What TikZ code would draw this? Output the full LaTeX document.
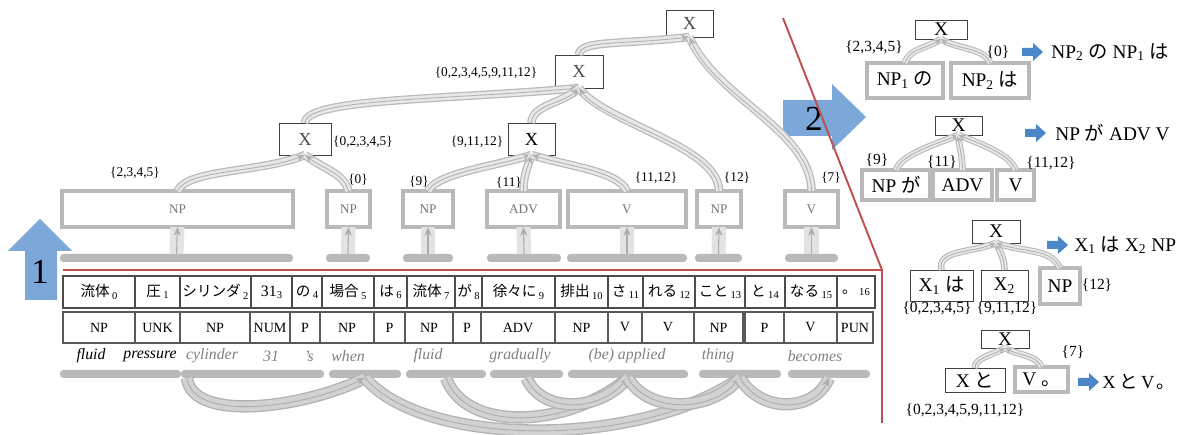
\documentclass[tikz,border=0pt]{standalone}
\usepackage{fontspec}
\setmainfont{Liberation Serif}
\newfontfamily\jp{Noto Sans CJK JP}
\usetikzlibrary{arrows.meta}
\definecolor{redl}{RGB}{192,80,77}
\definecolor{bigblue}{RGB}{123,167,217}
\definecolor{smallblue}{RGB}{74,134,200}
\newcommand\mybox[7]{\node[#1,minimum width={(#4-#3)*0.02cm},minimum height={(#6-#5)*0.02cm}] (#2) at ({(#3+#4)/2},{(#5+#6)/2}) {#7};}
\newcommand\wrd[2]{{\jp #1}\,\raisebox{-0.35ex}{\fontsize{6}{6}\selectfont #2}}
\newcommand\smallarr[2]{\fill[smallblue] (#1,#2-4) -- ++(11,0) -- ++(0,-5) -- (#1+21,#2) -- (#1+11,#2+9) -- ++(0,-5) -- (#1,#2+4) -- cycle;}
\begin{document}
\begin{tikzpicture}[x=0.02cm,y=-0.02cm,
  wbox/.style={draw=black!70,line width=0.6pt,fill=white,inner sep=0pt,outer sep=0pt,font=\fontsize{8.3}{9}\selectfont},
  pbox/.style={draw=black!65,line width=0.6pt,fill=white,inner sep=0pt,outer sep=0pt,font=\fontsize{8}{9}\selectfont},
  gbox/.style={draw=gray!55,line width=2.2pt,fill=white,inner sep=0pt,outer sep=0pt,text=black!55,font=\fontsize{7.5}{8}\selectfont},
  xbox/.style={draw=black!75,line width=0.5pt,fill=white,inner sep=0pt,outer sep=0pt,text=black!70,font=\fontsize{10.5}{11}\selectfont},
  rgbox/.style={gbox,text=black,font=\fontsize{11}{12}\selectfont},
  rxbox/.style={xbox,text=black,font=\fontsize{11}{12}\selectfont},
  bar/.style={fill=gray!55,rounded corners=2pt,inner sep=0pt,outer sep=0pt},
  lbl/.style={font=\fontsize{7.6}{8}\selectfont,inner sep=0pt},
  rlbl/.style={font=\fontsize{8.8}{9}\selectfont,inner sep=0pt},
  res/.style={font=\fontsize{11}{12}\selectfont,inner sep=0pt},
  gloss/.style={font=\fontsize{9}{10}\selectfont\itshape,inner sep=0pt,text=black!50},
  tube/.style={line width=3.4pt,draw=gray!18,preaction={draw=gray!55,line width=4.8pt},postaction={draw=gray!60,line width=0.5pt,-{Stealth[length=5pt,width=4pt]}}},
  tubeS/.style={line width=2.6pt,draw=gray!18,preaction={draw=gray!55,line width=3.8pt},postaction={draw=gray!60,line width=0.5pt,-{Stealth[length=4pt,width=3.5pt]}}},
  tubeB/.style={line width=5.5pt,draw=gray!35,preaction={draw=gray!60,line width=7pt},postaction={draw=gray!65,line width=0.5pt,-{Stealth[length=5pt,width=4pt]}}},
  uparr/.style={draw=gray!65,line width=0.6pt,-{Stealth[length=5pt,width=4pt]},preaction={draw=gray!22,line width=8pt,-}}
]
\useasboundingbox (0,0) rectangle (1181,435);
% big blue arrows
\fill[bigblue] (25,300) -- (25,251) -- (8,251) -- (40,219) -- (72,251) -- (57,251) -- (57,300) -- cycle;
\node[font=\fontsize{20}{20}\selectfont,inner sep=0pt] (n1) at (40,272) {1};
\fill[bigblue] (783,100) -- (832,100) -- (832,84) -- (866,117) -- (832,150) -- (832,136) -- (783,136) -- cycle;
\node[font=\fontsize{20}{20}\selectfont,inner sep=0pt] (n2) at (814,119) {2};
% red frame lines
\draw[redl,line width=1.1pt] (63,270) -- (882,270) -- (882,423);
\draw[redl,line width=1.1pt] (882,270) -- (783,18);
% word row
\mybox{wbox}{w0}{63}{135}{276}{308}{\wrd{流体}{0}}
\mybox{wbox}{w1}{135}{180}{276}{308}{\wrd{圧}{1}}
\mybox{wbox}{w2}{180}{251}{276}{308}{\wrd{シリンダ}{2}}
\mybox{wbox}{w3}{251}{292}{276}{308}{{\fontsize{9}{9}\selectfont 31}\raisebox{-0.35ex}{\fontsize{6}{6}\selectfont 3}}
\mybox{wbox}{w4}{292}{322}{276}{308}{\wrd{の}{4}}
\mybox{wbox}{w5}{322}{374}{276}{308}{\wrd{場合}{5}}
\mybox{wbox}{w6}{374}{407}{276}{308}{\wrd{は}{6}}
\mybox{wbox}{w7}{407}{455}{276}{308}{\wrd{流体}{7}}
\mybox{wbox}{w8}{455}{482}{276}{308}{\wrd{が}{8}}
\mybox{wbox}{w9}{482}{555}{276}{308}{\wrd{徐々に}{9}}
\mybox{wbox}{w10}{555}{608}{276}{308}{\wrd{排出}{10}}
\mybox{wbox}{w11}{608}{643}{276}{308}{\wrd{さ}{11}}
\mybox{wbox}{w12}{643}{695}{276}{308}{\wrd{れる}{12}}
\mybox{wbox}{w13}{695}{745}{276}{308}{\wrd{こと}{13}}
\mybox{wbox}{w14}{745}{785}{276}{308}{\wrd{と}{14}}
\mybox{wbox}{w15}{785}{837}{276}{308}{\wrd{なる}{15}}
\mybox{wbox}{w16}{837}{875}{276}{308}{\wrd{。}{16}}
% POS row
\mybox{pbox}{p0}{63}{135}{312}{343}{NP}
\mybox{pbox}{p1}{135}{180}{312}{343}{UNK}
\mybox{pbox}{p2}{180}{250}{312}{343}{NP}
\mybox{pbox}{p3}{250}{290}{312}{343}{NUM}
\mybox{pbox}{p4}{290}{320}{312}{343}{P}
\mybox{pbox}{p5}{320}{374}{312}{343}{NP}
\mybox{pbox}{p6}{374}{405}{312}{343}{P}
\mybox{pbox}{p7}{405}{453}{312}{343}{NP}
\mybox{pbox}{p8}{453}{481}{312}{343}{P}
\mybox{pbox}{p9}{481}{555}{312}{343}{ADV}
\mybox{pbox}{p10}{555}{608}{312}{343}{NP}
\mybox{pbox}{p11}{608}{642}{312}{343}{V}
\mybox{pbox}{p12}{642}{694}{312}{343}{V}
\mybox{pbox}{p13}{694}{743}{312}{343}{NP}
\mybox{pbox}{p14}{745}{784}{312}{343}{P}
\mybox{pbox}{p15}{784}{837}{312}{343}{V}
\mybox{pbox}{p16}{837}{873}{312}{343}{PUN}
% glosses
\node[gloss,text=black] (g0) at (91,356) {fluid};
\node[gloss,text=black] (g1) at (150,356) {pressure};
\node[gloss] (g2) at (212,356) {cylinder};
\node[gloss] (g3) at (271,356) {31};
\node[gloss] (g4) at (309,356) {'s};
\node[gloss] (g5) at (348,356) {when};
\node[gloss] (g6) at (428,356) {fluid};
\node[gloss] (g7) at (520,356) {gradually};
\node[gloss] (g8) at (627,356) {(be) applied};
\node[gloss] (g9) at (718,356) {thing};
\node[gloss] (g10) at (815,356) {becomes};
% bottom bars
\mybox{bar}{c1}{60}{181}{370}{378}{}
\mybox{bar}{c2}{181}{324}{370}{378}{}
\mybox{bar}{c3}{329}{401}{370}{378}{}
\mybox{bar}{c4}{406}{486}{370}{378}{}
\mybox{bar}{c5}{490}{563}{370}{378}{}
\mybox{bar}{c6}{568}{688}{370}{378}{}
\mybox{bar}{c7}{699}{781}{370}{378}{}
\mybox{bar}{c8}{788}{870}{370}{378}{}
% bottom arcs
\draw[tubeB] ([xshift=0.12cm]c2.south west) .. controls +(5,45) and +(-60,30) .. (c3.south);
\draw[tubeB] (c3.south) .. controls +(60,70) and +(-100,70) .. (c7.south);
\draw[tubeB] (c4.south) .. controls +(20,55) and +(-60,50) .. (c6.south);
\draw[tubeB] (c5.south) .. controls +(15,35) and +(-30,35) .. (c6.south);
\draw[tubeB] (c6.south) .. controls +(20,35) and +(-30,35) .. (c7.south);
\draw[tubeB] (c7.south) .. controls +(20,35) and +(-15,35) .. (c8.south);
% upper bars
\mybox{bar}{b1}{60}{293}{254}{262}{}
\mybox{bar}{b2}{326}{370}{254}{262}{}
\mybox{bar}{b3}{403}{453}{254}{262}{}
\mybox{bar}{b4}{487}{561}{254}{262}{}
\mybox{bar}{b5}{567}{687}{254}{262}{}
\mybox{bar}{b6}{695}{742}{254}{262}{}
\mybox{bar}{b7}{785}{838}{254}{262}{}
% upper boxes
\mybox{gbox}{npA}{62}{293}{191}{227}{NP}
\mybox{gbox}{npB}{327}{370}{191}{227}{NP}
\mybox{gbox}{npC}{403}{453}{191}{227}{NP}
\mybox{gbox}{adv}{487}{560}{191}{227}{ADV}
\mybox{gbox}{vA}{568}{686}{191}{227}{V}
\mybox{gbox}{npD}{697}{741}{191}{227}{NP}
\mybox{gbox}{vB}{785}{838}{191}{227}{V}
\draw[uparr] (b1.north) -- (npA.south);
\draw[uparr] (b2.north) -- (npB.south);
\draw[uparr] (b3.north) -- (npC.south);
\draw[uparr] (b4.north) -- (adv.south);
\draw[uparr] (b5.north) -- (vA.south);
\draw[uparr] (b6.north) -- (npD.south);
\draw[uparr] (b7.north) -- (vB.south);
% X nodes
\mybox{xbox}{x1}{279}{331}{123}{155}{X}
\mybox{xbox,text=black}{x2}{508}{555}{123}{155}{X}
\mybox{xbox}{x3}{555}{603}{55}{88}{X}
\mybox{xbox}{x4}{666}{713}{10}{37}{X}
% tree connectors
\draw[tube] (npA.north) .. controls +(10,-22) and +(-45,18) .. (x1.south);
\draw[tube] (npB.north) .. controls +(-5,-18) and +(20,15) .. (x1.south);
\draw[tube] (x1.north) .. controls +(0,-25) and +(-130,12) .. (x3.south);
\draw[tube] (x2.north) .. controls +(0,-18) and +(-15,15) .. (x3.south);
\draw[tube] (npC.north) .. controls +(10,-18) and +(-40,12) .. (x2.south);
\draw[tube] (adv.north) .. controls +(0,-15) and +(-5,15) .. (x2.south);
\draw[tube] (vA.north) .. controls +(-10,-20) and +(40,12) .. (x2.south);
\draw[tube] (npD.north) .. controls +(0,-45) and +(25,35) .. (x3.south);
\draw[tube] (x3.north) .. controls +(0,-15) and +(-70,8) .. (x4.south);
\draw[tube] (vB.north) .. controls +(0,-60) and +(25,60) .. (x4.south);
% labels left
\node[lbl] (L1) at (135,173) {\{2,3,4,5\}};
\node[lbl] (L2) at (363,142) {\{0,2,3,4,5\}};
\node[lbl] (L3) at (358,180) {\{0\}};
\node[lbl] (L4) at (419,182) {\{9\}};
\node[lbl] (L5) at (509,183) {\{11\}};
\node[lbl] (L6) at (477,142) {\{9,11,12\}};
\node[lbl] (L7) at (656,178) {\{11,12\}};
\node[lbl] (L8) at (737,178) {\{12\}};
\node[lbl] (L9) at (831,178) {\{7\}};
\node[lbl] (L10) at (486,73) {\{0,2,3,4,5,9,11,12\}};
% right side rules
\mybox{rxbox}{r1x}{915}{967}{20}{39}{X}
\mybox{rgbox}{r1a}{867}{943}{63}{98}{NP\textsubscript{1}\ {\jp の}}
\mybox{rgbox}{r1b}{951}{1029}{63}{98}{NP\textsubscript{2}\ {\jp は}}
\mybox{rxbox}{r2x}{935}{982}{116}{135}{X}
\mybox{rgbox}{r2a}{862}{930}{170}{200}{NP\ {\jp が}}
\mybox{rgbox}{r2b}{933}{992}{170}{200}{ADV}
\mybox{rgbox}{r2c}{997}{1034}{170}{200}{V}
\mybox{rxbox}{r3x}{972}{1020}{220}{243}{X}
\mybox{rxbox}{r3a}{910}{973}{270}{301}{X\textsubscript{1}\ {\jp は}}
\mybox{rxbox}{r3b}{981}{1028}{270}{301}{X\textsubscript{2}}
\mybox{rgbox}{r3c}{1040}{1080}{268}{304}{NP}
\mybox{rxbox}{r4x}{981}{1029}{330}{348}{X}
\mybox{rxbox}{r4a}{945}{1005}{368}{392}{X\ {\jp と}}
\mybox{rgbox}{r4b}{1015}{1068}{367}{392}{V\ {\jp 。}}
\draw[tubeS] (r1a.north) .. controls +(5,-15) and +(-15,10) .. (r1x.south);
\draw[tubeS] (r1b.north) .. controls +(-5,-15) and +(15,10) .. (r1x.south);
\draw[tubeS] (r2a.north) .. controls +(5,-15) and +(-25,10) .. (r2x.south);
\draw[tubeS] (r2b.north) .. controls +(0,-15) and +(0,10) .. (r2x.south);
\draw[tubeS] (r2c.north) .. controls +(-5,-15) and +(25,10) .. (r2x.south);
\draw[tubeS] (r3a.north) .. controls +(-5,-20) and +(-25,10) .. (r3x.south);
\draw[tubeS] (r3b.north) .. controls +(0,-10) and +(5,10) .. (r3x.south);
\draw[tubeS] (r3c.north) .. controls +(-10,-20) and +(30,10) .. (r3x.south);
\draw[tubeS] (r4a.north) .. controls +(0,-10) and +(-15,8) .. (r4x.south);
\draw[tubeS] (r4b.north) .. controls +(-5,-12) and +(15,8) .. (r4x.south);
\node[rlbl] (R1) at (874,47) {\{2,3,4,5\}};
\node[rlbl] (R2) at (998,52) {\{0\}};
\node[rlbl] (R3) at (877,160) {\{9\}};
\node[rlbl] (R4) at (942,162) {\{11\}};
\node[rlbl] (R5) at (1051,163) {\{11,12\}};
\node[rlbl] (R6) at (1097,285) {\{12\}};
\node[rlbl] (R7) at (937,308) {\{0,2,3,4,5\}};
\node[rlbl] (R8) at (1007,308) {\{9,11,12\}};
\node[rlbl] (R9) at (1073,352) {\{7\}};
\node[rlbl] (R10) at (965,410) {\{0,2,3,4,5,9,11,12\}};
\smallarr{1022}{52}
\smallarr{1025}{133}
\smallarr{1047}{245}
\smallarr{1078}{382}
\node[res,anchor=west] (t1) at (1051,52) {NP\textsubscript{2}\ {\jp の}\ NP\textsubscript{1}\ {\jp は}};
\node[res,anchor=west] (t2) at (1055,133) {NP\ {\jp が}\ ADV V};
\node[res,anchor=west] (t3) at (1074,245) {X\textsubscript{1}\ {\jp は}\ X\textsubscript{2}\ NP};
\node[res,anchor=west,font=\fontsize{10.5}{11}\selectfont] (t4) at (1102,382) {X\hspace{2pt}{\jp と}\hspace{2pt}V\hspace{1pt}{\jp 。}};
\end{tikzpicture}
\end{document}
